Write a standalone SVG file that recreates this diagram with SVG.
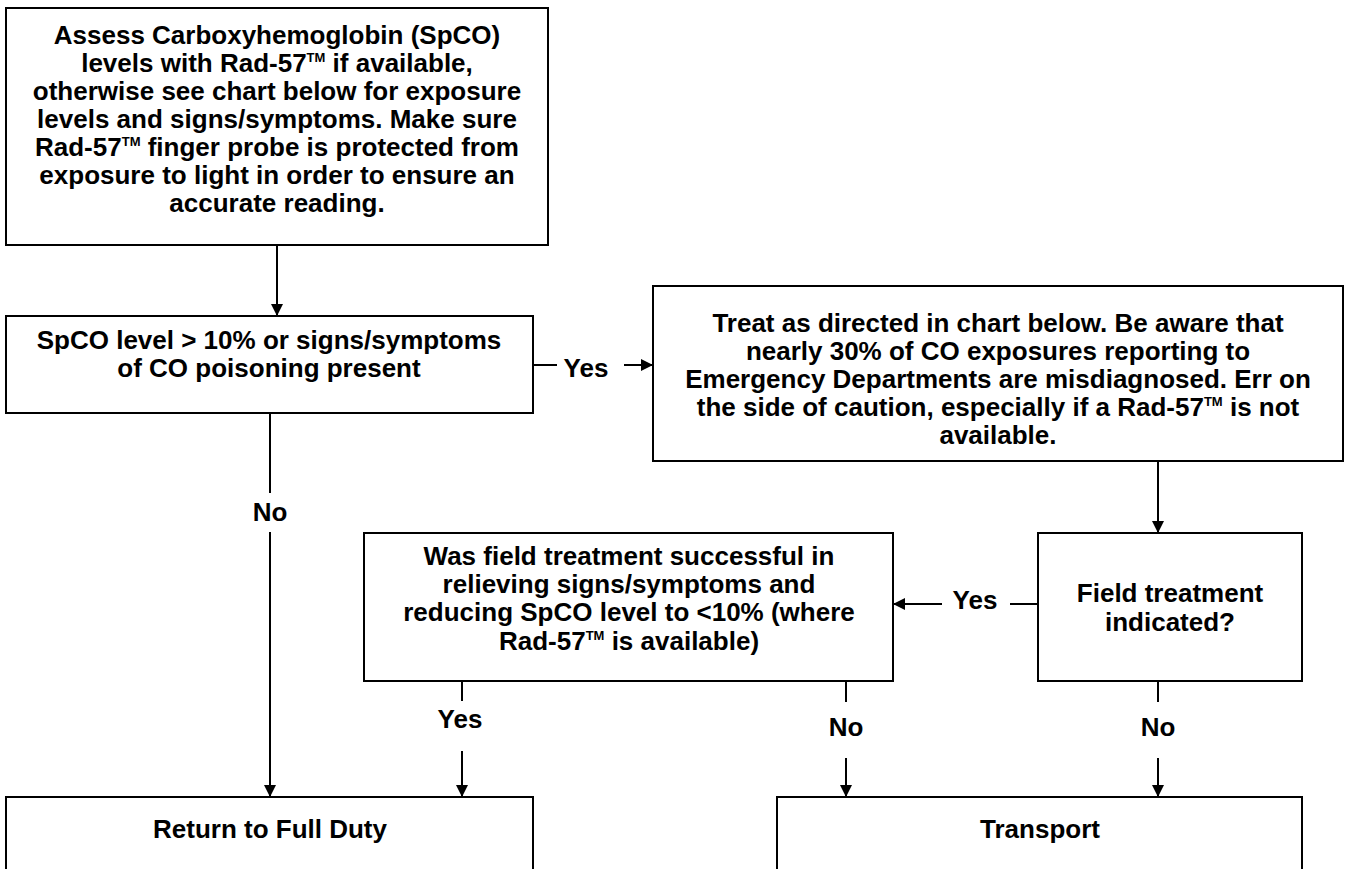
<svg xmlns="http://www.w3.org/2000/svg" width="1347" height="869" viewBox="0 0 1347 869">
<style>
.box{fill:#fff;stroke:#000;stroke-width:2}
.t{font-family:"Liberation Sans",Arial,sans-serif;font-weight:bold;font-size:26px;fill:#000;text-anchor:middle}
.tm{font-size:13px}
.c{stroke:#000;stroke-width:2;fill:none}
</style>
<defs>
<marker id="ah" markerWidth="12" markerHeight="12" refX="11" refY="6" orient="auto" markerUnits="userSpaceOnUse" viewBox="0 0 12 12">
<path d="M0,0 L12,6 L0,12 Z" fill="#000"/>
</marker>
</defs>
<rect width="1347" height="869" fill="#fff"/>
<g id="connectors">
<line class="c" x1="277" y1="245" x2="277" y2="315" marker-end="url(#ah)"/>
<line class="c" x1="533" y1="365" x2="557" y2="365"/>
<line class="c" x1="624" y1="365" x2="652" y2="365" marker-end="url(#ah)"/>
<line class="c" x1="270" y1="413" x2="270" y2="493"/>
<line class="c" x1="270" y1="532" x2="270" y2="796" marker-end="url(#ah)"/>
<line class="c" x1="1158" y1="461" x2="1158" y2="532" marker-end="url(#ah)"/>
<line class="c" x1="1038" y1="604" x2="1010" y2="604"/>
<line class="c" x1="942" y1="604" x2="894" y2="604" marker-end="url(#ah)"/>
<line class="c" x1="462" y1="681" x2="462" y2="701"/>
<line class="c" x1="462" y1="751" x2="462" y2="796" marker-end="url(#ah)"/>
<line class="c" x1="846" y1="681" x2="846" y2="702"/>
<line class="c" x1="846" y1="758" x2="846" y2="796" marker-end="url(#ah)"/>
<line class="c" x1="1158" y1="681" x2="1158" y2="702"/>
<line class="c" x1="1158" y1="758" x2="1158" y2="796" marker-end="url(#ah)"/>
<text class="t" x="586" y="377">Yes</text>
<text class="t" x="270" y="521">No</text>
<text class="t" x="975" y="609">Yes</text>
<text class="t" x="460" y="728">Yes</text>
<text class="t" x="846" y="736">No</text>
<text class="t" x="1158" y="736">No</text>
</g>
<g id="assess">
<rect class="box" x="6" y="8" width="542" height="237"/>
<text class="t" x="277" y="44">Assess Carboxyhemoglobin (SpCO)</text>
<text class="t" x="277" y="72">levels with Rad-57<tspan class="tm" dy="-10">TM</tspan><tspan dy="10"> if available,</tspan></text>
<text class="t" x="277" y="100">otherwise see chart below for exposure</text>
<text class="t" x="277" y="128">levels and signs/symptoms. Make sure</text>
<text class="t" x="277" y="156">Rad-57<tspan class="tm" dy="-10">TM</tspan><tspan dy="10"> finger probe is protected from</tspan></text>
<text class="t" x="277" y="184">exposure to light in order to ensure an</text>
<text class="t" x="277" y="212">accurate reading.</text>
</g>
<g id="spco">
<rect class="box" x="6" y="316" width="527" height="97"/>
<text class="t" x="269" y="349">SpCO level &gt; 10% or signs/symptoms</text>
<text class="t" x="269" y="377">of CO poisoning present</text>
</g>
<g id="treat">
<rect class="box" x="653" y="286" width="690" height="175"/>
<text class="t" x="998" y="332">Treat as directed in chart below. Be aware that</text>
<text class="t" x="998" y="360">nearly 30% of CO exposures reporting to</text>
<text class="t" x="998" y="388">Emergency Departments are misdiagnosed. Err on</text>
<text class="t" x="998" y="416">the side of caution, especially if a Rad-57<tspan class="tm" dy="-10">TM</tspan><tspan dy="10"> is not</tspan></text>
<text class="t" x="998" y="444">available.</text>
</g>
<g id="indicated">
<rect class="box" x="1038" y="533" width="264" height="148"/>
<text class="t" x="1170" y="602">Field treatment</text>
<text class="t" x="1170" y="631">indicated?</text>
</g>
<g id="successful">
<rect class="box" x="364" y="533" width="529" height="148"/>
<text class="t" x="629" y="565">Was field treatment successful in</text>
<text class="t" x="629" y="593">relieving signs/symptoms and</text>
<text class="t" x="629" y="621">reducing SpCO level to &lt;10% (where</text>
<text class="t" x="629" y="650">Rad-57<tspan class="tm" dy="-10">TM</tspan><tspan dy="10"> is available)</tspan></text>
</g>
<g id="return">
<rect class="box" x="6" y="797" width="527" height="90"/>
<text class="t" x="270" y="838">Return to Full Duty</text>
</g>
<g id="transport">
<rect class="box" x="777" y="797" width="525" height="90"/>
<text class="t" x="1040" y="838">Transport</text>
</g>
</svg>
